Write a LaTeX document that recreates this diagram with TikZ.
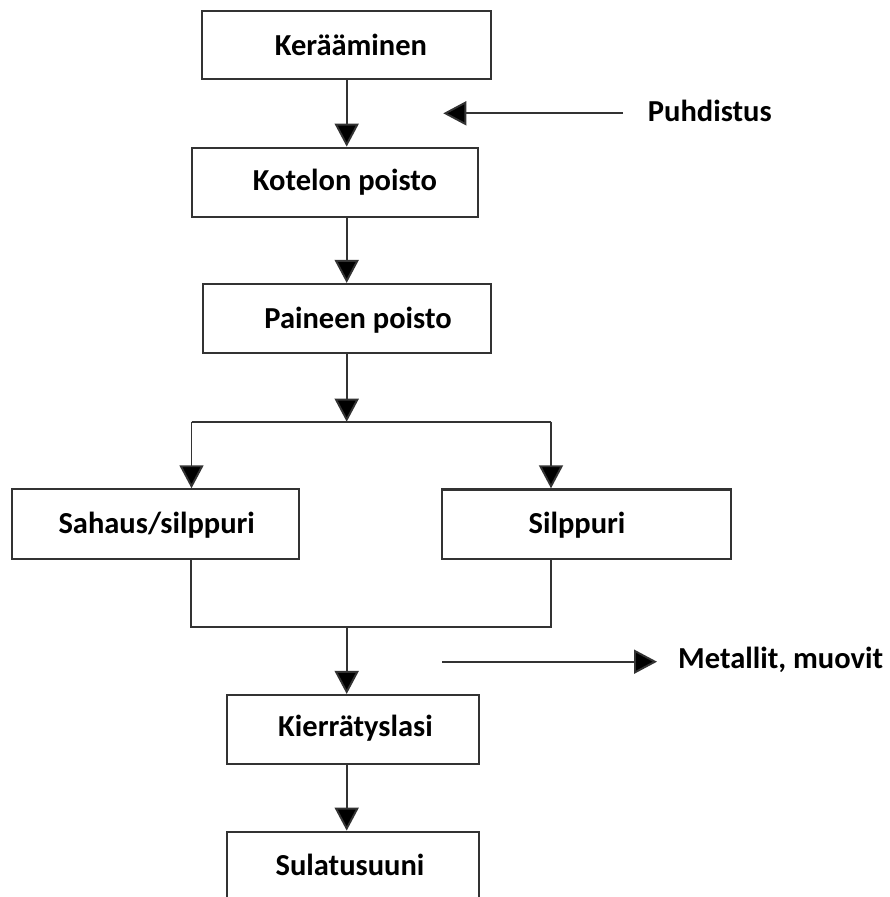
\documentclass[tikz,border=0pt]{standalone}
\usepackage{fontspec}
\setmainfont{Carlito}
\usetikzlibrary{arrows.meta}

\tikzset{
  box/.style={draw=black!80, line width=2.2pt, fill=white, inner sep=0pt},
  lbl/.style={font=\fontsize{30.5}{36}\selectfont\bfseries, text=black, inner sep=0pt, anchor=base},
  flow/.style={draw=black!80, line width=1.9pt},
  arr/.style={flow, -{Triangle[length=23pt,width=24pt,fill=black]}},
}

\begin{document}
\begin{tikzpicture}[x=1pt, y=-1pt]
  \useasboundingbox (0,0) rectangle (889,897);

  % process boxes
  \node[box, minimum width=288.4pt, minimum height=68.6pt] (b1) at (346.5,45) {};
  \node[box, minimum width=286.6pt, minimum height=69pt]   (b2) at (335,182.2) {};
  \node[box, minimum width=288.3pt, minimum height=69pt]   (b3) at (346.8,318.5) {};
  \node[box, minimum width=287.3pt, minimum height=69.7pt] (b4) at (155.3,524.2) {};
  \node[box, minimum width=288.4pt, minimum height=69.2pt] (b5) at (586.5,524) {};
  \node[box, minimum width=252.3pt, minimum height=69pt]   (b6) at (352.8,729.5) {};
  \node[box, minimum width=252.3pt, minimum height=69pt]   (b7) at (352.8,866.2) {};

  % box captions
  \node[lbl] (t1) at (351,55)    {Kerääminen};
  \node[lbl] (t2) at (345,190)   {Kotelon poisto};
  \node[lbl] (t3) at (358,328.3) {Paineen poisto};
  \node[lbl] (t4) at (156.7,533.3) {Sahaus/silppuri};
  \node[lbl] (t5) at (577,533.3) {Silppuri};
  \node[lbl] (t6) at (355.5,736.7) {Kierrätyslasi};
  \node[lbl] (t7) at (350,875)   {Sulatusuuni};

  % side inputs / outputs
  \node[lbl, anchor=base west] (puh) at (647.7,121.7) {Puhdistus};
  \node[lbl, anchor=base west] (met) at (678,668.3) {Metallit, muovit};

  % junction points
  \coordinate (c1) at (346.7,0);
  \coordinate (split) at (346.7,421.7);
  \coordinate (sL) at (191.5,421.7);
  \coordinate (sR) at (551,421.7);
  \coordinate (mL) at (190.7,626.7);
  \coordinate (mR) at (551,626.7);
  \coordinate (merge) at (346.7,626.7);
  \coordinate (puhtip) at (443.3,113.3);
  \coordinate (puhstart) at (623,113.3);
  \coordinate (metstart) at (442,661.7);
  \coordinate (metend) at (657,661.7);

  % main chain
  \draw[arr] (c1 |- b1.south) -- (c1 |- b2.north);
  \draw[arr] (c1 |- b2.south) -- (c1 |- b3.north);
  \draw[arr] (c1 |- b3.south) -- (split);

  % branch to the two shredding lines
  \draw[flow] (sL) -- (sR);
  \draw[arr] (sL) -- (sL |- b4.north);
  \draw[arr] (sR) -- (sR |- b5.north);

  % merge back
  \draw[flow] (mL |- b4.south) -- (mL) -- (mR) -- (mR |- b5.south);
  \draw[arr] (merge) -- (merge |- b6.north);
  \draw[arr] (c1 |- b6.south) -- (c1 |- b7.north);

  % side arrows
  \draw[arr] (puhstart) -- (puhtip);
  \draw[arr] (metstart) -- (metend);
\end{tikzpicture}
\end{document}
